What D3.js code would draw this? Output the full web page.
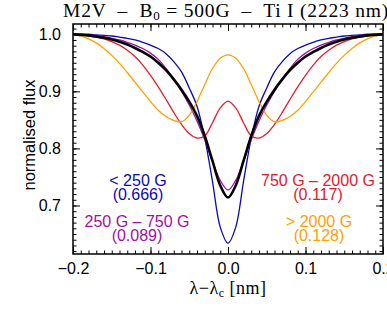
<!DOCTYPE html>
<html>
<head>
<meta charset="utf-8">
<script src="https://cdn.jsdelivr.net/npm/d3@7"></script>
<style>
  body { margin: 0; background: #fff; }
  svg { display: block; }
  .sans { font-family: "Liberation Sans", Arial, sans-serif; }
  .serif { font-family: "Liberation Serif", "Times New Roman", serif; }
</style>
</head>
<body>
<svg id="chart" width="387" height="309"></svg>
<script>
// wavelength offset from line centre [nm]
const lambda = [-0.20,-0.19,-0.18,-0.17,-0.16,-0.15,-0.14,-0.13,-0.12,-0.11,-0.10,
  -0.09,-0.08,-0.07,-0.06,-0.05,-0.04,-0.03,-0.02,-0.01,0.00,
  0.01,0.02,0.03,0.04,0.05,0.06,0.07,0.08,0.09,0.10,
  0.11,0.12,0.13,0.14,0.15,0.16,0.17,0.18,0.19,0.20];

// normalised flux for each field strength bin
const fluxLow = [1.000,1.000,1.000,0.999,0.998,0.997,0.995,0.993,0.990,0.986,0.981,
  0.975,0.966,0.952,0.934,0.906,0.874,0.818,0.742,0.662,0.634,
  0.662,0.742,0.818,0.874,0.906,0.934,0.952,0.966,0.975,0.981,
  0.986,0.990,0.993,0.995,0.997,0.998,0.999,1.000,1.000,1.000];
const fluxMid = [1.000,1.000,0.999,0.998,0.996,0.993,0.990,0.986,0.981,0.975,0.967,
  0.956,0.940,0.921,0.900,0.876,0.848,0.815,0.778,0.744,0.727,
  0.744,0.778,0.815,0.848,0.876,0.900,0.921,0.940,0.956,0.967,
  0.975,0.981,0.986,0.990,0.993,0.996,0.998,0.999,1.000,1.000];
const fluxHigh = [1.000,0.999,0.997,0.995,0.992,0.987,0.981,0.972,0.961,0.946,0.928,
  0.908,0.886,0.863,0.842,0.826,0.818,0.822,0.845,0.871,0.883,
  0.871,0.845,0.822,0.818,0.826,0.842,0.863,0.886,0.908,0.928,
  0.946,0.961,0.972,0.981,0.987,0.992,0.995,0.997,0.999,1.000];
const fluxStrong = [1.000,0.997,0.992,0.985,0.975,0.963,0.949,0.933,0.916,0.899,0.882,
  0.867,0.856,0.849,0.847,0.858,0.882,0.912,0.940,0.958,0.964,
  0.958,0.940,0.912,0.882,0.858,0.847,0.849,0.856,0.867,0.882,
  0.899,0.916,0.933,0.949,0.963,0.975,0.985,0.992,0.997,1.000];
const fluxTotal = [1.000,0.999,0.998,0.996,0.994,0.991,0.987,0.982,0.976,0.969,0.961,
  0.950,0.937,0.921,0.903,0.882,0.857,0.822,0.778,0.735,0.714,
  0.735,0.778,0.822,0.857,0.882,0.903,0.921,0.937,0.950,0.961,
  0.969,0.976,0.982,0.987,0.991,0.994,0.996,0.998,0.999,1.000];

const binLabels = ["< 250 G", "250 G \u2013 750 G", "750 G \u2013 2000 G", "> 2000 G"];
const binFractions = ["(0.666)", "(0.089)", "(0.117)", "(0.128)"];

const xTicks = [-0.2, -0.1, 0.0, 0.1, 0.2];
const yTicks = [0.7, 0.8, 0.9, 1.0];

const svg = d3.select("#chart");
const m = { left: 73, right: 4, top: 24, bottom: 55 };
const W = 387, H = 309;

const x = d3.scaleLinear().domain([-0.2, 0.2]).range([m.left, W - m.right]);
const y = d3.scaleLinear().domain([0.615, 1.018]).range([H - m.bottom, m.top]);

const series = [
  { vals: fluxLow, color: "#0a0ab4", w: 1.3 },
  { vals: fluxMid, color: "#a010a8", w: 1.3 },
  { vals: fluxHigh, color: "#e0202e", w: 1.3 },
  { vals: fluxStrong, color: "#ffa000", w: 1.3 },
  { vals: fluxTotal, color: "#000000", w: 2.6 }
];

const line = d3.line()
  .x((d, i) => x(lambda[i]))
  .y(d => y(d))
  .curve(d3.curveCatmullRom.alpha(0.5));

svg.append("defs").append("clipPath").attr("id", "plotclip")
  .append("rect")
  .attr("x", m.left).attr("y", m.top)
  .attr("width", W - m.left - m.right).attr("height", H - m.top - m.bottom);

svg.append("g").attr("clip-path", "url(#plotclip)")
  .selectAll("path")
  .data(series)
  .join("path")
  .attr("d", d => line(d.vals))
  .attr("fill", "none")
  .attr("stroke", d => d.color)
  .attr("stroke-width", d => d.w);

// axes with inward ticks (minor every 0.01)
const xMinor = d3.range(-20, 21).map(k => k / 100);
const yMinor = d3.range(62, 102).map(k => k / 100);

function drawAxis(axis, transform) {
  const g = svg.append("g").attr("transform", transform).call(axis);
  g.select(".domain").remove();
  g.selectAll(".tick line").attr("stroke", "#000").attr("stroke-width", 1);
  return g;
}

const bottomY = H - m.bottom, topY = m.top, leftX = m.left, rightX = W - m.right;

drawAxis(d3.axisBottom(x).tickValues(xMinor).tickSize(-3.5).tickFormat(""), `translate(0,${bottomY})`);
drawAxis(d3.axisTop(x).tickValues(xMinor).tickSize(-3.5).tickFormat(""), `translate(0,${topY})`);
drawAxis(d3.axisLeft(y).tickValues(yMinor).tickSize(-3.5).tickFormat(""), `translate(${leftX},0)`);
drawAxis(d3.axisRight(y).tickValues(yMinor).tickSize(-3.5).tickFormat(""), `translate(${rightX},0)`);

const fmt = v => (v < 0 ? "\u2212" : "") + Math.abs(v).toFixed(1);

const xb = drawAxis(d3.axisBottom(x).tickValues(xTicks).tickSize(-7).tickPadding(14).tickFormat(fmt), `translate(0,${bottomY})`);
drawAxis(d3.axisTop(x).tickValues(xTicks).tickSize(-7).tickFormat(""), `translate(0,${topY})`);
const yl = drawAxis(d3.axisLeft(y).tickValues(yTicks).tickSize(-7).tickPadding(12).tickFormat(fmt), `translate(${leftX},0)`);
drawAxis(d3.axisRight(y).tickValues(yTicks).tickSize(-7).tickFormat(""), `translate(${rightX},0)`);

[xb, yl].forEach(g => g.selectAll(".tick text")
  .attr("class", "sans").attr("fill", "#000").style("font-size", "16px"));
xb.selectAll(".tick text").attr("dy", null).attr("y", 20);

// frame
svg.append("rect")
  .attr("x", leftX).attr("y", topY)
  .attr("width", rightX - leftX).attr("height", bottomY - topY)
  .attr("fill", "none").attr("stroke", "#000").attr("stroke-width", 1.5);

// title
const title = svg.append("text").attr("class", "serif")
  .attr("x", 63).attr("y", 17).attr("text-anchor", "start")
  .style("font-size", "19.5px").style("letter-spacing", "0.8px").style("white-space", "pre");
title.append("tspan").text("M2V  \u2013  B");
title.append("tspan").attr("dy", 3).style("font-size", "13px").text("0");
title.append("tspan").attr("dy", -3).text(" = 500G  \u2013  Ti I (2223 nm)");

// x label
const xl = svg.append("text").attr("class", "serif")
  .attr("x", x(0)).attr("y", 294).attr("text-anchor", "middle")
  .style("font-size", "18px").style("letter-spacing", "0.5px");
xl.append("tspan").text("\u03bb\u2212\u03bb");
xl.append("tspan").attr("dy", 3).style("font-size", "12px").text("c");
xl.append("tspan").attr("dy", -3).text(" [nm]");

// y label
svg.append("text").attr("class", "sans")
  .attr("transform", "translate(35,135) rotate(-90)")
  .attr("text-anchor", "middle")
  .style("font-size", "16.5px")
  .text("normalised flux");

// legend labels
const legendPos = [
  { cx: 138, by: 186 },
  { cx: 137, by: 227 },
  { cx: 318, by: 186 },
  { cx: 319, by: 227 }
];
legendPos.forEach((p, i) => {
  const t = svg.append("text").attr("class", "sans")
    .attr("text-anchor", "middle").attr("fill", series[i].color)
    .style("font-size", "16px");
  t.append("tspan").attr("x", p.cx).attr("y", p.by).text(binLabels[i]);
  t.append("tspan").attr("x", p.cx).attr("y", p.by + 14).text(binFractions[i]);
});
</script>
</body>
</html>
